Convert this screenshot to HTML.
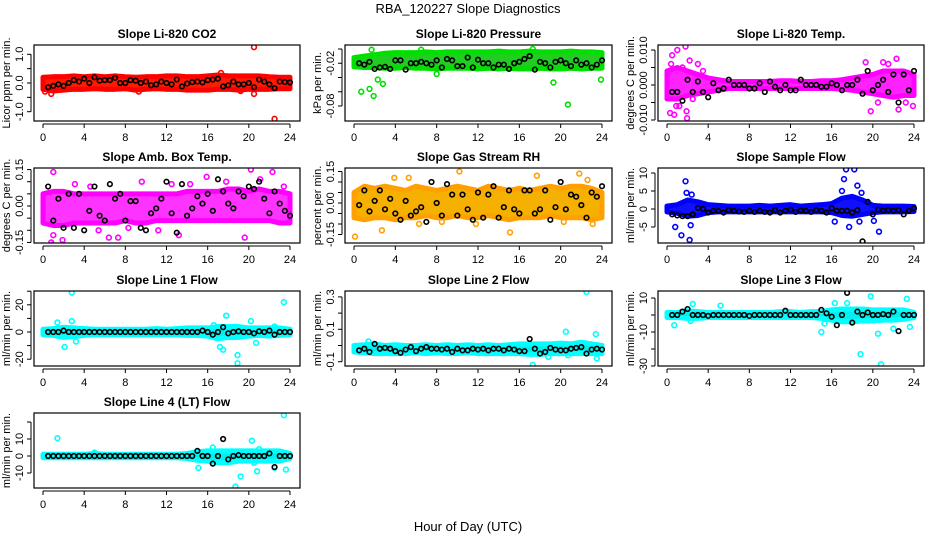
<!DOCTYPE html>
<html><head><meta charset="utf-8"><style>
html,body{margin:0;padding:0;background:#fff;}
svg{display:block;font-family:"Liberation Sans",Arial,sans-serif;}
</style></head><body>
<svg id="chart" width="936" height="540" viewBox="0 0 936 540">
<text x="468" y="13" text-anchor="middle" font-size="13">RBA_120227  Slope Diagnostics</text>
<text x="468" y="531" text-anchor="middle" font-size="13">Hour of Day (UTC)</text>
</svg>
<script>
// shared hours
const bandHours = [0,1,2,3,4,5,6,7,8,9,10,11,12,13,14,15,16,17,18,19,20,21,22,23,24];
const blackHours = [0.5,1,1.5,2,2.5,3,3.5,4,4.5,5,5.5,6,6.5,7,7.5,8,8.5,9,9.5,10,10.5,11,11.5,12,12.5,13,13.5,14,14.5,15,15.5,16,16.5,17,17.5,18,18.5,19,19.5,20,20.5,21,21.5,22,22.5,23,23.5,24];
const xTicks = [0,4,8,12,16,20,24];

// CO2
const co2Lo = [-0.22,-0.28,-0.25,-0.22,-0.22,-0.2,-0.22,-0.22,-0.2,-0.25,-0.22,-0.2,-0.22,-0.22,-0.25,-0.25,-0.25,-0.22,-0.22,-0.25,-0.22,-0.22,-0.22,-0.2,-0.2];
const co2Hi = [0.2,0.22,0.22,0.25,0.22,0.25,0.22,0.25,0.22,0.2,0.22,0.22,0.25,0.25,0.22,0.22,0.25,0.28,0.25,0.25,0.25,0.25,0.22,0.2,0.2];
const co2OutX = [0.2,0.8,9.3,17.3,19.2,20.5,20.5,22.5];
const co2OutY = [-0.3,-0.38,-0.3,0.35,-0.28,-0.38,1.25,-1.25];
const co2Black = [-0.15,-0.1,-0.05,-0.1,0,0.1,0.05,0.15,0,0.2,0.08,0.1,0.1,0.18,0,0,0.1,0.08,0,0.05,-0.08,-0.05,0.05,0,-0.05,0.12,-0.12,-0.02,0.03,0.05,0.02,0.1,0.12,0.15,-0.12,-0.08,0.05,-0.05,-0.05,0,-0.15,0.12,0.05,-0.05,-0.18,0.05,0.03,0.02];
const co2Ticks = [-1,-0.5,0,0.5,1];
const co2Labels = ["-1.0","","0.0","","1.0"];

// Pressure
const prLo = [-0.025,-0.026,-0.026,-0.027,-0.027,-0.026,-0.027,-0.027,-0.028,-0.027,-0.027,-0.027,-0.028,-0.027,-0.028,-0.027,-0.028,-0.028,-0.027,-0.028,-0.028,-0.027,-0.028,-0.027,-0.027];
const prHi = [-0.012,-0.01,-0.008,-0.006,-0.005,-0.005,-0.005,-0.004,-0.005,-0.004,-0.004,-0.004,-0.004,-0.004,-0.003,-0.004,-0.004,-0.003,-0.004,-0.004,-0.004,-0.003,-0.004,-0.004,-0.005];
const prOutX = [0.7,1.5,1.7,1.9,2.3,2.8,8,6.5,17.3,19.3,20.7,23.9];
const prOutY = [-0.06,-0.056,-0.001,-0.066,-0.043,-0.049,-0.035,-0.001,0.0,-0.047,-0.078,-0.043];
const prBlack = [-0.02,-0.022,-0.018,-0.028,-0.026,-0.025,-0.028,-0.016,-0.016,-0.029,-0.02,-0.02,-0.018,-0.02,-0.022,-0.016,-0.026,-0.014,-0.016,-0.024,-0.024,-0.012,-0.026,-0.015,-0.02,-0.02,-0.026,-0.022,-0.022,-0.028,-0.02,-0.018,-0.014,-0.01,-0.029,-0.018,-0.02,-0.026,-0.018,-0.016,-0.02,-0.024,-0.016,-0.022,-0.02,-0.026,-0.022,-0.016];
const prTicks = [-0.08,-0.06,-0.04,-0.02,0];
const prLabels = ["-0.08","","","-0.02",""];

// Li-820 Temp
const ltLo = [-0.004,-0.004,-0.003,-0.0025,-0.002,-0.0015,-0.001,-0.001,-0.001,-0.001,-0.001,-0.001,-0.001,-0.001,-0.001,-0.001,-0.001,-0.0012,-0.0015,-0.002,-0.0025,-0.003,-0.0035,-0.003,-0.003];
const ltHi = [0.004,0.005,0.004,0.003,0.002,0.0015,0.001,0.001,0.001,0.001,0.001,0.0012,0.0012,0.001,0.001,0.0012,0.0012,0.0015,0.002,0.0025,0.003,0.004,0.004,0.004,0.003];
const ltOutX = [0.3,0.5,0.7,1.0,1.8,1.9,1.95,3,19.3,19.8,21,22.3,22.5,23.9,0.4,1.2,1.5,2.5,3.5,20.5,21.5,23.2,0.9,2.2];
const ltOutY = [-0.008,0.0085,-0.0085,0.010,0.011,-0.0075,-0.0095,0.006,0.0065,-0.0075,0.0065,0.0075,-0.007,-0.006,0.006,-0.006,0.005,-0.004,0.004,-0.005,0.006,-0.005,-0.006,0.007];
const ltBlack = [-0.002,-0.002,-0.0045,0.0015,-0.002,0.001,-0.002,-0.0035,0.0005,-0.0015,-0.001,0.0015,0,0,0,-0.001,-0.001,0.0005,-0.002,0.001,-0.0005,-0.0015,0,-0.0015,-0.0015,0.0015,0,0,0,-0.0005,-0.0005,0.0005,0,-0.0015,0,0,0.0015,-0.0025,0.004,-0.0015,0,0.0015,-0.002,0.003,-0.005,0.003,-0.0015,0.004];
const ltTicks = [-0.01,-0.005,0,0.005,0.01];
const ltLabels = ["-0.010","","0.000","","0.010"];

// Amb box temp
const abLo = [-0.07,-0.08,-0.08,-0.07,-0.07,-0.07,-0.07,-0.07,-0.06,-0.07,-0.07,-0.06,-0.06,-0.06,-0.06,-0.06,-0.06,-0.06,-0.06,-0.06,-0.06,-0.06,-0.06,-0.07,-0.07];
const abHi = [0.05,0.06,0.06,0.05,0.05,0.05,0.05,0.05,0.05,0.05,0.05,0.05,0.05,0.05,0.06,0.06,0.06,0.06,0.07,0.07,0.06,0.07,0.06,0.06,0.05];
const abOutX = [0.8,1.0,1.0,1.9,6.4,7.3,13.2,15.9,19.6,20.2,22.3,21.1,0.9,2.0,3.1,5.4,9.6,11.2,14.3,17.8,23.4,4.6,8.3,12.5];
const abOutY = [-0.15,0.14,-0.12,-0.14,-0.13,-0.13,-0.12,0.12,-0.13,0.15,0.14,0.11,-0.16,-0.16,0.09,-0.1,0.1,-0.1,0.09,0.1,0.08,0.08,-0.09,0.09];
const abBlack = [0.08,-0.06,0.03,-0.09,0.05,-0.09,0.05,-0.1,-0.02,0.08,-0.04,-0.06,0.09,0.03,0.05,-0.06,0.02,0.02,-0.09,-0.1,-0.03,-0.01,0.03,0.1,-0.03,-0.11,0.09,-0.04,-0.01,0.04,0.01,0.05,-0.02,0.11,0.06,0.01,-0.01,0.06,0.04,0.08,0.07,0.1,0.03,-0.03,0.06,0.01,-0.02,-0.04];
const abTicks = [-0.15,-0.1,-0.05,0,0.05,0.1,0.15];
const abLabels = ["-0.15","","","0.00","","","0.15"];

// Gas stream RH
const rhLo = [-0.07,-0.08,-0.07,-0.07,-0.08,-0.07,-0.07,-0.06,-0.07,-0.07,-0.06,-0.07,-0.07,-0.06,-0.07,-0.08,-0.07,-0.07,-0.07,-0.06,-0.07,-0.07,-0.07,-0.08,-0.07];
const rhHi = [0.05,0.08,0.07,0.08,0.07,0.06,0.08,0.07,0.06,0.07,0.08,0.07,0.06,0.08,0.07,0.06,0.07,0.06,0.07,0.08,0.07,0.08,0.08,0.07,0.05];
const rhOutX = [0.1,2.7,3.9,5.3,6.3,8.5,10.2,11.8,15.1,17.7,20.3,21.8,22.6,23.1];
const rhOutY = [-0.16,-0.13,0.12,0.12,-0.1,-0.09,0.15,-0.1,-0.14,0.13,-0.09,0.14,0.11,-0.1];
const rhBlack = [-0.01,0.06,-0.04,0.01,0.06,-0.03,0.02,-0.05,-0.08,0.01,-0.06,-0.04,-0.02,-0.09,0.1,0,-0.06,0.09,0.04,-0.06,0.04,-0.03,-0.08,0.05,-0.07,0.04,0.08,-0.07,-0.02,0.06,-0.03,-0.05,0.06,0.06,-0.05,-0.03,0.06,-0.08,-0.02,0.1,-0.03,0.04,0.03,-0.01,-0.07,0.05,0.03,0.08];
const rhTicks = [-0.15,-0.1,-0.05,0,0.05,0.1,0.15];
const rhLabels = ["-0.15","","","0.00","","","0.15"];

// Sample flow
const sfLo = [-0.8,-1.2,-2,-1.8,-1,-0.8,-0.8,-0.8,-0.8,-0.8,-0.8,-0.8,-0.8,-0.8,-0.8,-0.8,-1,-1.8,-2,-1.5,-1,-0.8,-0.8,-0.8,-0.7];
const sfHi = [0.8,1.2,2.5,2,1.2,1,0.8,0.8,0.8,1,0.8,1,1.2,0.8,1,1.2,1.5,3,3.5,2.5,1,0.8,0.8,0.8,0.7];
const sfOutX = [0.8,1.4,1.8,2.2,2.3,17.2,17.4,18.2,18.5,18.7,17.7,20.6,20.1,16.3,1.9,2.4,17.0,18.9];
const sfOutY = [-5,-7.3,7.7,-8.6,-4.5,8.3,11,11,6.5,-3.5,-5,-6.3,-3.3,-3.5,4.5,4,5,4.5];
const sfBlack = [-1.5,-1.8,-2,-2,-1.5,0.3,0,-1,-0.5,-0.5,-1,-0.3,-0.5,-0.7,-0.8,-0.5,-0.8,-0.5,-0.8,-1,-0.3,-1,-0.5,-0.2,-0.8,-0.4,-0.5,-0.8,-0.3,-0.5,-1,0.2,-0.5,-0.5,-0.5,-1,-0.3,-9,2,-1.5,-0.2,-0.5,-0.3,-0.5,-0.3,-1.5,-0.5,0.2];
const sfTicks = [-5,0,5,10];
const sfLabels = ["-5","0","5","10"];

// Line 1 flow
const l1Lo = [-2,-2.5,-4,-3.5,-2.5,-2,-2,-2,-2,-2,-2,-2,-2,-2,-2.5,-2.5,-3,-5,-4,-4,-3,-2.5,-3,-2.5,-2];
const l1Hi = [2,2.5,3.5,3,2.5,2,2,2,2,2,2,2.5,2,2.5,3,3,3,4,4,4,3,3,3,3,2];
const l1OutX = [1.4,2.1,2.8,2.8,3.2,17.2,17.5,17.8,18.9,18.9,20.2,20.7,22.5,23.4,16.6];
const l1OutY = [7,-11,8,29,-7,-11,-13,12,-17,-23,8,-8,4,22,5];
const l1Black = [0,0,0,1,0,0,0,0,0,0,0,0,0,0,0,0,0,0,0,0,0,0,0,0,0,0,0,0,0,0,1,0,-2,0,3.5,-1,0,0.5,0,0,-1,0.5,0,1,-2,0,0,0];
const l1Ticks = [-20,-10,0,10,20,30];
const l1Labels = ["-20","","0","","20",""];

// Line 2 flow
const l2Lo = [-0.04,-0.045,-0.05,-0.05,-0.05,-0.05,-0.045,-0.05,-0.045,-0.05,-0.05,-0.045,-0.05,-0.05,-0.05,-0.05,-0.05,-0.055,-0.055,-0.05,-0.05,-0.05,-0.05,-0.05,-0.05];
const l2Hi = [0.0,0.005,0.01,0.0,0.005,0.0,0.0,0.005,0.0,0.005,0.0,0.005,0.0,0.005,0.0,0.005,0.01,0.01,0.01,0.01,0.015,0.01,0.02,0.01,0.0];
const l2OutX = [1.4,17.3,20.5,22.5,23.4,23.5,18.8,20.7];
const l2OutY = [0.025,-0.12,0.085,0.33,0.07,-0.08,-0.07,-0.06];
const l2Black = [-0.03,-0.02,-0.04,0.01,-0.02,-0.015,-0.02,-0.035,-0.045,-0.025,-0.01,-0.035,-0.02,-0.01,-0.02,-0.02,-0.025,-0.02,-0.04,-0.02,-0.03,-0.03,-0.02,-0.025,-0.02,-0.03,-0.02,-0.02,-0.03,-0.02,-0.025,-0.035,-0.035,0.04,-0.02,-0.05,-0.04,-0.015,-0.025,-0.03,-0.03,-0.02,-0.015,-0.01,-0.05,-0.025,-0.02,-0.025];
const l2Ticks = [-0.1,0,0.1,0.2,0.3];
const l2Labels = ["-0.1","","0.1","","0.3"];

// Line 3 flow
const l3Lo = [-1.5,-1.5,-2,-2,-1.5,-1.5,-1.5,-1.5,-1.5,-1.5,-1.5,-1.5,-1.5,-1.5,-1.5,-2,-3,-4,-4,-3.5,-3.5,-3,-3,-2.5,-1.5];
const l3Hi = [1.5,1.5,2.5,2,1.5,1.5,1.5,1.5,1.5,1.5,1.5,2,2,1.5,2,2,3,3.5,3.5,3.5,3,3,3,3,1.5];
const l3OutX = [0.7,2.3,2.5,5.2,15,15.3,16.3,17.5,18.8,19.8,20.8,20.5,22,23.3,23.6];
const l3OutY = [-6,-3.5,6.5,5.5,-10,-5,7,7,-23,11,-29,-11,-8,9.5,-7];
const l3Black = [0,0,2,3.5,0,0,0,-0.5,0,0,0,0,0,0,0,-0.5,0,0,0,0,0,0,2.5,0,0,0,0,0,0,3,1,-1,-6,0,13,-4.5,2,0,1.5,0,0,0.5,0,2,-9.5,0,0,0];
const l3Ticks = [-30,-20,-10,0,10];
const l3Labels = ["-30","","-10","","10"];

// Line 4 flow
const l4Lo = [-1,-1,-1,-1,-1,-1,-1,-1,-1,-1,-1,-1,-1,-1,-1.5,-2.5,-3,-4,-4,-3,-3,-3,-3,-3,-1.5];
const l4Hi = [1,1,1,1,1,1.5,1,1,1,1,1,1,1,1,1.5,2.5,3,3,3,3,3,3,3,3,1.5];
const l4OutX = [1.4,18.7,19.2,20.3,20.5,20.8,21.0,22.5,23.4,23.6,16.5,15.1,5.0];
const l4OutY = [10.5,-18,-12,9,-4,-9,4,-7,24,-8,5,-7,2];
const l4Black = [0,0,0,0,0,0,0,0,0,0,0,0,0,0,0,0,0,0,0,0,0,0,0,0,0,0,0,0,0,3,0,0,-4.5,0,10,-2,0,0.5,0,0,0,0,0,1.5,-6.5,0,0,0];
const l4Ticks = [-10,0,10,20];
const l4Labels = ["-10","0","10",""];

const panels = [
 {name:"co2",title:"Slope Li-820 CO2",ylab:"Licor ppm per min.",col:0,row:0,y0:83,k:28.7,lo:co2Lo,hi:co2Hi,ox:co2OutX,oy:co2OutY,bk:co2Black,ticks:co2Ticks,labels:co2Labels,stroke:"#ff0000",fill:"#ff1a00"},
 {name:"pressure",title:"Slope Li-820 Pressure",ylab:"kPa per min.",col:1,row:0,y0:49,k:712.5,lo:prLo,hi:prHi,ox:prOutX,oy:prOutY,bk:prBlack,ticks:prTicks,labels:prLabels,stroke:"#00e000",fill:"#22cc22"},
 {name:"li820-temp",title:"Slope Li-820 Temp.",ylab:"degrees C per min.",col:2,row:0,y0:85,k:3500,lo:ltLo,hi:ltHi,ox:ltOutX,oy:ltOutY,bk:ltBlack,ticks:ltTicks,labels:ltLabels,stroke:"#ff00ff",fill:"#ff22ff"},
 {name:"amb-box-temp",title:"Slope Amb. Box Temp.",ylab:"degrees C per min.",col:0,row:1,y0:206,k:243,lo:abLo,hi:abHi,ox:abOutX,oy:abOutY,bk:abBlack,ticks:abTicks,labels:abLabels,stroke:"#ff00ff",fill:"#ff33ff"},
 {name:"gas-stream-rh",title:"Slope Gas Stream RH",ylab:"percent per min.",col:1,row:1,y0:203,k:210,lo:rhLo,hi:rhHi,ox:rhOutX,oy:rhOutY,bk:rhBlack,ticks:rhTicks,labels:rhLabels,stroke:"#ffa000",fill:"#f5b000"},
 {name:"sample-flow",title:"Slope Sample Flow",ylab:"ml/min per min.",col:2,row:1,y0:209,k:3.6,lo:sfLo,hi:sfHi,ox:sfOutX,oy:sfOutY,bk:sfBlack,ticks:sfTicks,labels:sfLabels,stroke:"#0000ff",fill:"#1010ff"},
 {name:"line1-flow",title:"Slope Line 1 Flow",ylab:"ml/min per min.",col:0,row:2,y0:332,k:1.36,lo:l1Lo,hi:l1Hi,ox:l1OutX,oy:l1OutY,bk:l1Black,ticks:l1Ticks,labels:l1Labels,stroke:"#00ffff",fill:"#00f0f0"},
 {name:"line2-flow",title:"Slope Line 2 Flow",ylab:"ml/min per min.",col:1,row:2,y0:345.5,k:162,lo:l2Lo,hi:l2Hi,ox:l2OutX,oy:l2OutY,bk:l2Black,ticks:l2Ticks,labels:l2Labels,stroke:"#00ffff",fill:"#00f0f0"},
 {name:"line3-flow",title:"Slope Line 3 Flow",ylab:"ml/min per min.",col:2,row:2,y0:315,k:1.7,lo:l3Lo,hi:l3Hi,ox:l3OutX,oy:l3OutY,bk:l3Black,ticks:l3Ticks,labels:l3Labels,stroke:"#00ffff",fill:"#00f0f0"},
 {name:"line4-flow",title:"Slope Line 4 (LT) Flow",ylab:"ml/min per min.",col:0,row:3,y0:456,k:1.7,lo:l4Lo,hi:l4Hi,ox:l4OutX,oy:l4OutY,bk:l4Black,ticks:l4Ticks,labels:l4Labels,stroke:"#00ffff",fill:"#00f0f0"}
];

const colLeft = [34,345,658];
const colRight = [300,612,924];
const rowTop = [45,168,291,413];
const rowBottom = [121,243,366,488];
const NS = "http://www.w3.org/2000/svg";
const svg = document.getElementById("chart");

function mk(tag, parent){ const e=document.createElementNS(NS,tag); parent.appendChild(e); return e; }

panels.forEach(function(p){
  const L=colLeft[p.col], R=colRight[p.col], T=rowTop[p.row], B=rowBottom[p.row];
  const x0=L+9, x24=R-10;
  const xs=function(h){return x0+(x24-x0)*h/24;};
  const ys=function(v){return p.y0-v*p.k;};
  const g=mk("g",svg);
  
  
  const clip=mk("clipPath",g); clip.setAttribute("id","clip-"+p.name);
  const cr=mk("rect",clip); cr.setAttribute("x",L); cr.setAttribute("y",T); cr.setAttribute("width",R-L); cr.setAttribute("height",B-T);
  const t=mk("text",g);
  
  
  t.setAttribute("x",(L+R)/2); t.setAttribute("y",T-7); t.setAttribute("text-anchor","middle");
  t.setAttribute("font-size","12"); t.setAttribute("font-weight","bold"); t.textContent=p.title;
  const yl=mk("text",g);
  
  
  const ylx=L-24, ylY=(T+B)/2;
  yl.setAttribute("transform","translate("+ylx+","+ylY+") rotate(-90)");
  yl.setAttribute("text-anchor","middle"); yl.setAttribute("font-size","11"); yl.textContent=p.ylab;
  const dg=mk("g",g); dg.setAttribute("clip-path","url(#clip-"+p.name+")");
  
  
  let pts=[];
  for(let i=0;i<bandHours.length;i++) pts.push(xs(bandHours[i])+","+ys(p.hi[i]));
  for(let i=bandHours.length-1;i>=0;i--) pts.push(xs(bandHours[i])+","+ys(p.lo[i]));
  const band=mk("polygon",dg);
  
  
  band.setAttribute("points",pts.join(" ")); band.setAttribute("fill",p.fill);
  band.setAttribute("stroke",p.stroke); band.setAttribute("stroke-width","5"); band.setAttribute("stroke-linejoin","round");
  for(let i=0;i<p.ox.length;i++){
    const c=mk("circle",dg);
    
    
    c.setAttribute("cx",xs(p.ox[i])); c.setAttribute("cy",ys(p.oy[i])); c.setAttribute("r","2.4");
    c.setAttribute("fill","none"); c.setAttribute("stroke",p.stroke); c.setAttribute("stroke-width","1.6");
  }
  for(let i=0;i<blackHours.length;i++){
    const c=mk("circle",dg);
    
    
    c.setAttribute("cx",xs(blackHours[i])); c.setAttribute("cy",ys(p.bk[i])); c.setAttribute("r","2.3");
    c.setAttribute("fill","none"); c.setAttribute("stroke","#000"); c.setAttribute("stroke-width","1.6");
  }
  const box=mk("rect",g);
  
  
  box.setAttribute("x",L); box.setAttribute("y",T); box.setAttribute("width",R-L); box.setAttribute("height",B-T);
  box.setAttribute("fill","none"); box.setAttribute("stroke","#000"); box.setAttribute("stroke-width","1.2");
  const xa=mk("g",g);
  
  
  const xl=mk("line",xa); xl.setAttribute("x1",xs(xTicks[0])); xl.setAttribute("x2",xs(xTicks[xTicks.length-1]));
  xl.setAttribute("y1",B+3); xl.setAttribute("y2",B+3); xl.setAttribute("stroke","#000");
  xTicks.forEach(function(h){
    const tl=mk("line",xa); tl.setAttribute("x1",xs(h)); tl.setAttribute("x2",xs(h)); tl.setAttribute("y1",B+3); tl.setAttribute("y2",B+7); tl.setAttribute("stroke","#000");
    const tx=mk("text",xa);
    
    
    tx.setAttribute("x",xs(h)); tx.setAttribute("y",B+20); tx.setAttribute("text-anchor","middle"); tx.setAttribute("font-size","11"); tx.textContent=h;
  });
  const ya=mk("g",g);
  
  
  const yline=mk("line",ya); yline.setAttribute("x1",L-3); yline.setAttribute("x2",L-3);
  yline.setAttribute("y1",ys(p.ticks[0])); yline.setAttribute("y2",ys(p.ticks[p.ticks.length-1])); yline.setAttribute("stroke","#000");
  p.ticks.forEach(function(v,i){
    const tl=mk("line",ya); tl.setAttribute("x1",L-7); tl.setAttribute("x2",L-3); tl.setAttribute("y1",ys(v)); tl.setAttribute("y2",ys(v)); tl.setAttribute("stroke","#000");
    if(p.labels[i]!==""){
      const tx=mk("text",ya);
      
      
      tx.setAttribute("transform","translate("+(L-11)+","+ys(v)+") rotate(-90)");
      tx.setAttribute("text-anchor","middle"); tx.setAttribute("font-size","11"); tx.textContent=p.labels[i];
    }
  });
});
</script>
</body></html>
